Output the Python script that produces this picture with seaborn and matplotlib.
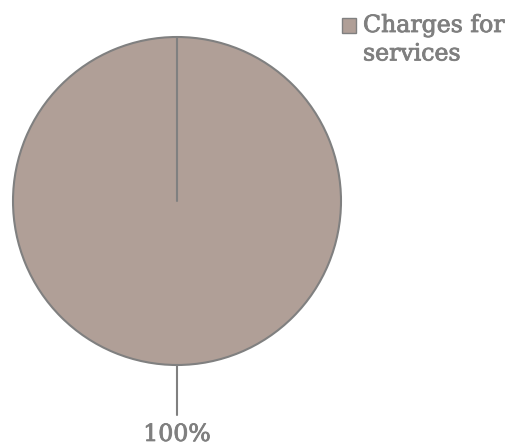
import textwrap
import matplotlib
matplotlib.use("Agg")
import matplotlib.pyplot as plt
import matplotlib.patheffects as pe
from matplotlib.patches import Rectangle
import seaborn as sns

# Revenue composition
categories = ["Charges for services"]
shares = [100]
pct_labels = ["100%"]

sns.set_theme(style="white")
plt.rcParams["font.family"] = ["DejaVu Serif"]

slice_color = "#B09F97"
edge_color = "#808080"
text_color = "#7F7F7F"
W, H = 506, 448

# a touch of extra stroke weight for the serif labels
heavy = [pe.withStroke(linewidth=0.6, foreground=text_color)]

fig = plt.figure(figsize=(W / 100, H / 100), dpi=100)
ax = fig.add_axes([13 / W, 1 - 365 / H, 328 / W, 328 / H])

wedges, _ = ax.pie(
    shares,
    colors=[slice_color],
    startangle=90,
    counterclock=False,
    radius=1,
    wedgeprops=dict(edgecolor=edge_color, linewidth=1.5),
)
ax.set_xlim(-1, 1)
ax.set_ylim(-1, 1)
ax.set_aspect("equal")
ax.axis("off")

# Seam of the single full-circle slice, from the centre to 12 o'clock
ax.plot([0, 0], [0, 1], color=edge_color, lw=1.5)

# Leader line and percentage label below the pie
ax.plot([0, 0], [-1.0, -1.305], color=edge_color, lw=1.5, clip_on=False)
ax.text(0, -1.463, pct_labels[0], ha="center", va="baseline",
        fontsize=17, color=text_color, clip_on=False, path_effects=heavy)

# Legend: swatch beside the first line of the wrapped label
for i, (cat, w) in enumerate(zip(categories, wedges)):
    fig.patches.append(Rectangle(
        (342 / W, 1 - 33 / H), 14 / W, 15 / H, transform=fig.transFigure,
        facecolor=w.get_facecolor(), edgecolor=edge_color, lw=1.0))
    fig.text(363 / W, 1 - 14 / H, "\n".join(textwrap.wrap(cat, 12)),
             ha="left", va="top", fontsize=17, color=text_color,
             linespacing=1.3, path_effects=heavy)

fig.savefig("out.png", dpi=100)
